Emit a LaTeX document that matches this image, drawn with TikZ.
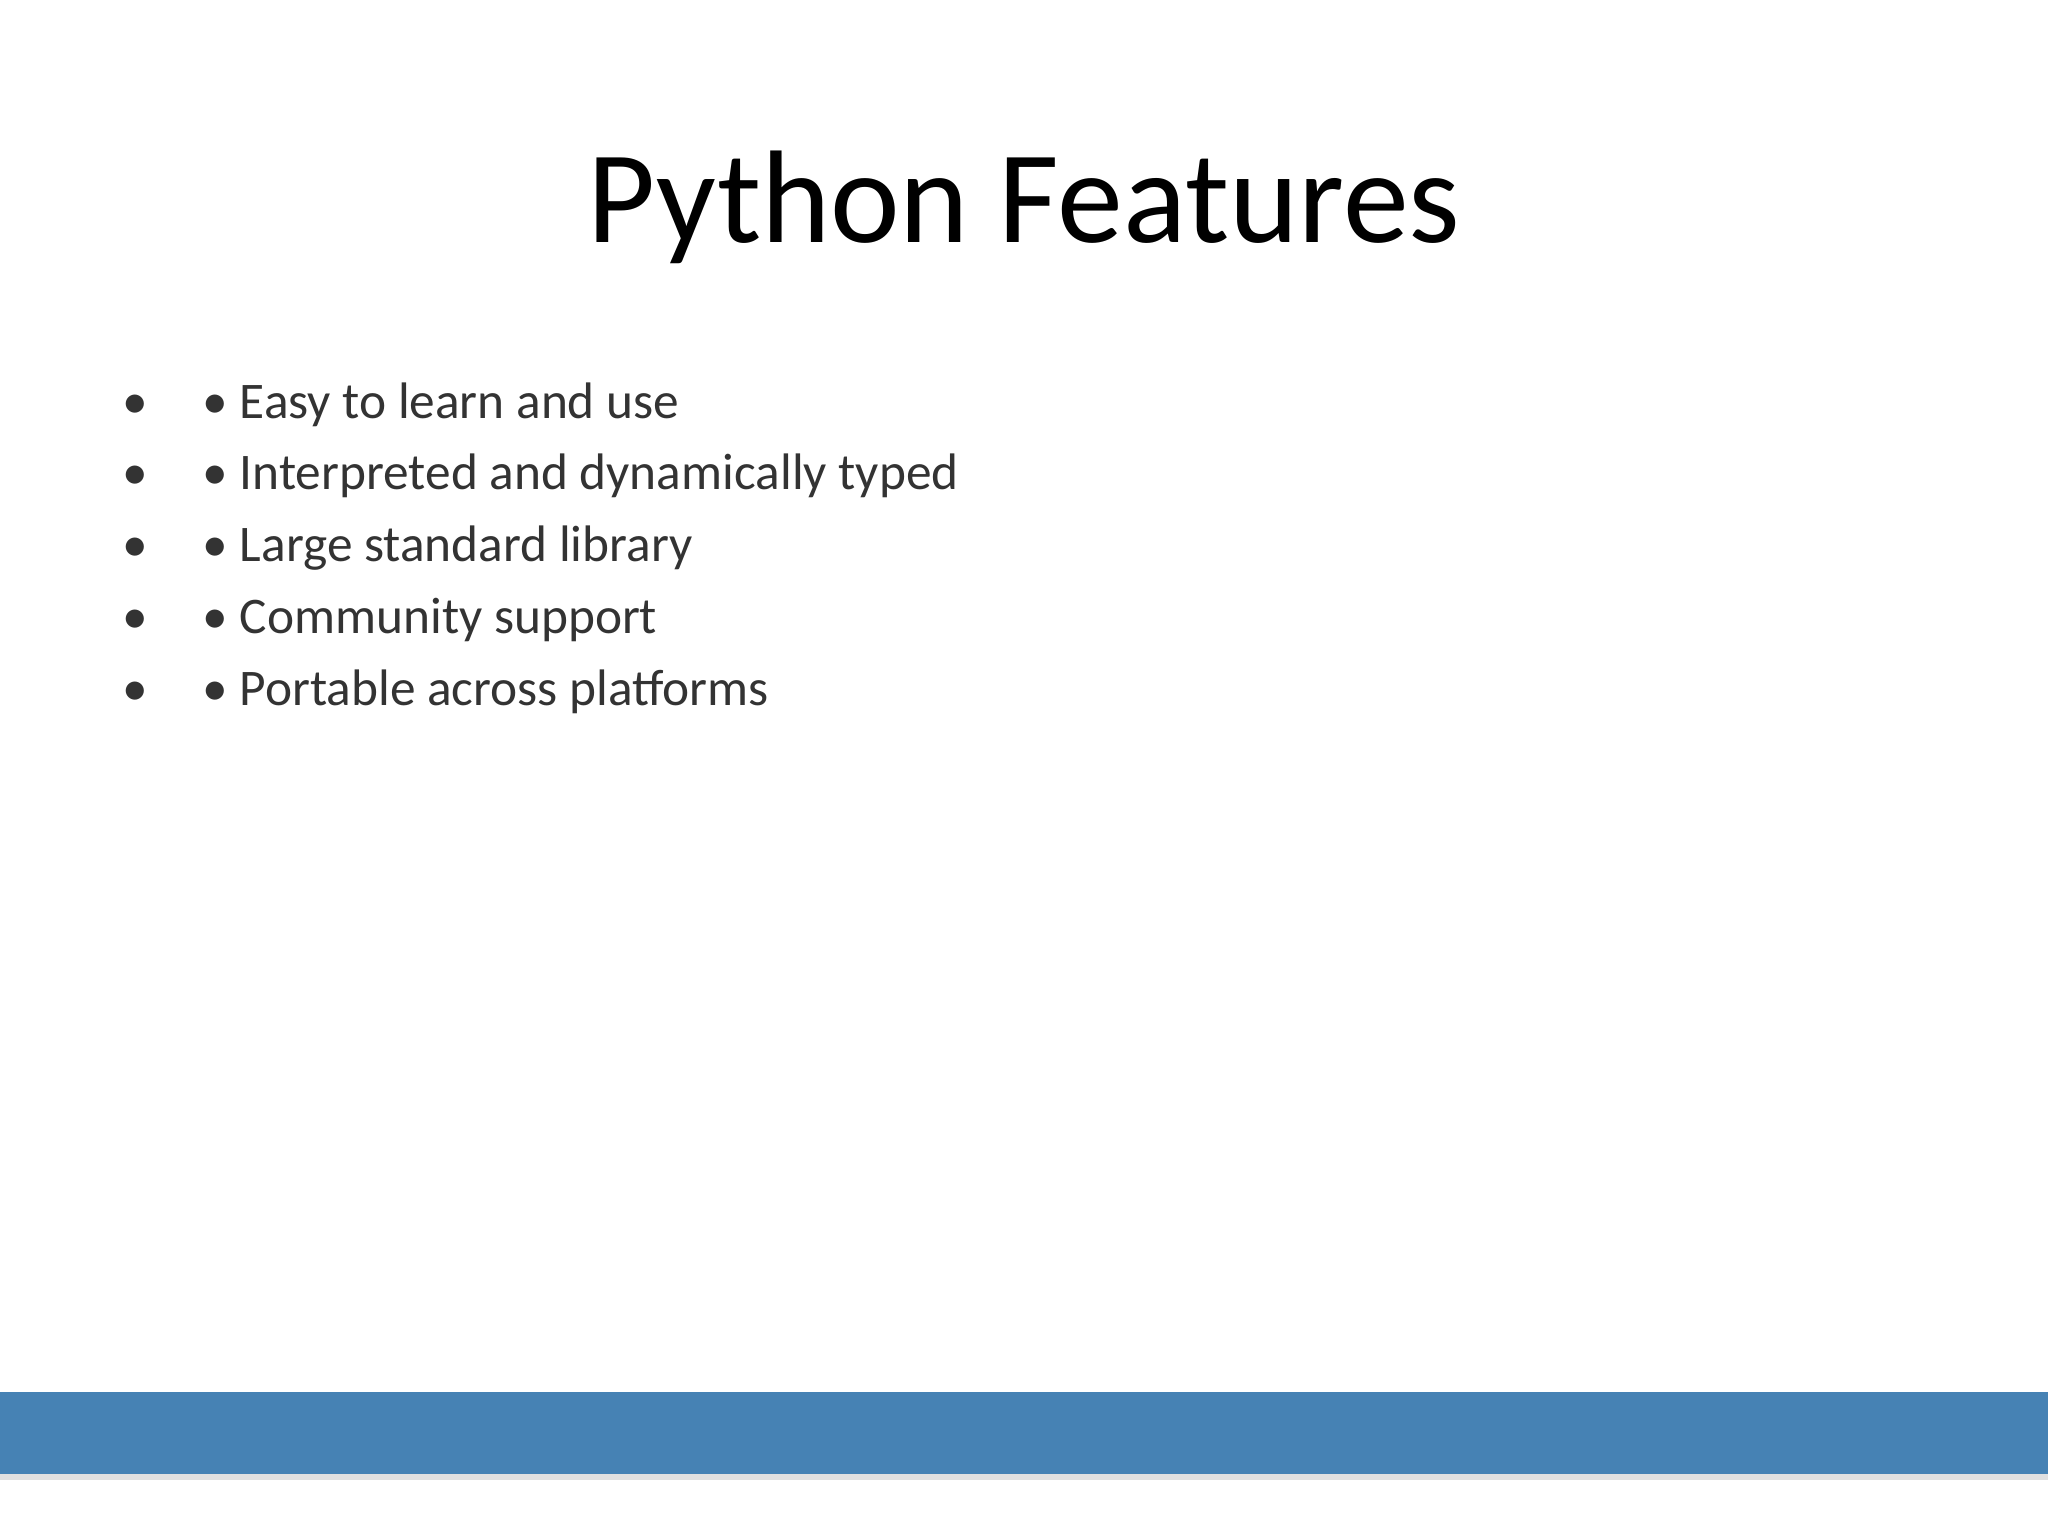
\documentclass[tikz,border=0pt]{standalone}
\usepackage{fontspec}
\setmainfont{Carlito}
\definecolor{barblue}{HTML}{4682B4}
\definecolor{txt}{HTML}{333333}
\begin{document}
\begin{tikzpicture}[x=0.01cm,y=-0.01cm,
  item/.style={anchor=base west,inner sep=0,text=txt,font=\fontsize{14.6pt}{17pt}\selectfont},
  dot/.style={anchor=base west,inner sep=0,text=txt,font=\fontsize{14.6pt}{17pt}\selectfont}]
\useasboundingbox (0,0) rectangle (2048,1536);
\fill[black!12] (0,1473) rectangle (2048,1480);
\fill[barblue] (0,1392) rectangle (2048,1474);
\node[anchor=base,inner sep=0,font=\fontsize{37.5pt}{40pt}\selectfont] (title) at (1024,242) {Python Features};
\foreach \t [count=\i] in {Easy to learn and use,Interpreted and dynamically typed,Large standard library,Community support,Portable across platforms}{
  \node[dot] (b\i) at (122,{418+71.8*(\i-1)}) {•};
  \node[item] (t\i) at (202,{418+71.8*(\i-1)}) {• \t};
}
\end{tikzpicture}
\end{document}
